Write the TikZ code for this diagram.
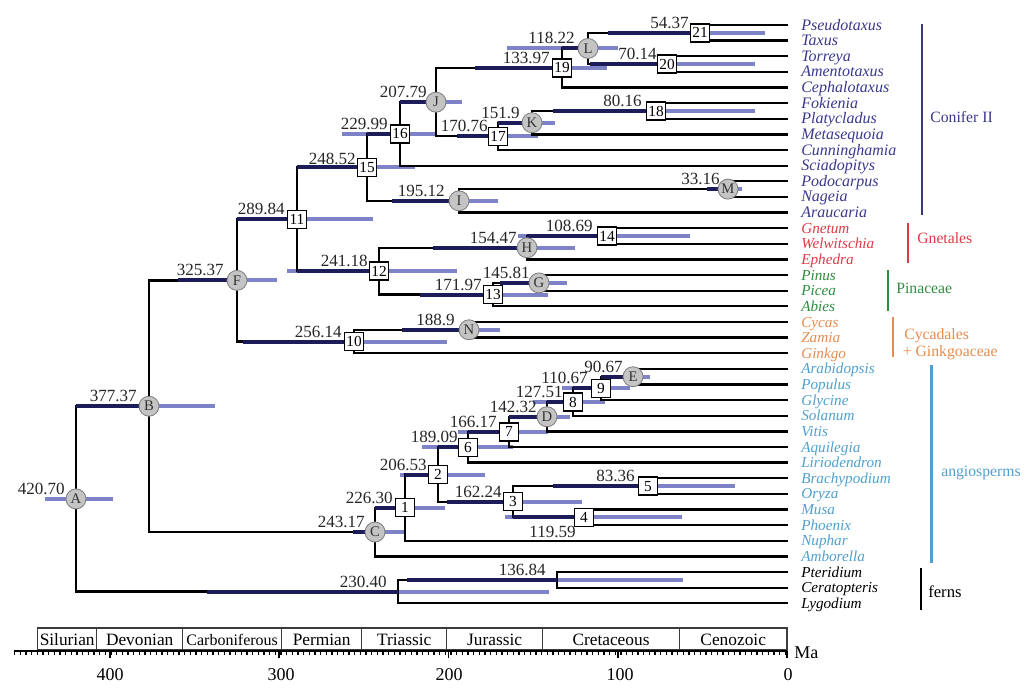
\documentclass[tikz,border=0pt]{standalone}
\usepackage{fontspec}
\setmainfont{Liberation Serif}
\usetikzlibrary{calc}
\pgfdeclarelayer{bars}
\pgfsetlayers{bars,main}
\definecolor{cilight}{RGB}{126,130,198}
\definecolor{cidark}{RGB}{28,28,88}
\definecolor{mkgray}{RGB}{196,196,196}
\definecolor{mkedge}{RGB}{125,125,125}
\definecolor{conc}{RGB}{58,56,140}
\definecolor{gnec}{RGB}{222,58,72}
\definecolor{pinc}{RGB}{46,140,64}
\definecolor{cycc}{RGB}{230,140,78}
\definecolor{angc}{RGB}{80,160,205}
\definecolor{perline}{RGB}{60,60,60}
\newcommand{\cibar}[5]{%
  \begin{pgfonlayer}{bars}\draw[cil] (#2,#1) -- (#5,#1);\end{pgfonlayer}%
  \draw[cid] (#3,#1) -- (#4,#1);}
\begin{document}
\begin{tikzpicture}[x=0.75pt,y=-0.75pt,
  br/.style={line width=1.7pt},
  cil/.style={line width=3pt,draw=cilight},
  cid/.style={line width=3pt,draw=cidark},
  cmark/.style={circle,fill=mkgray,draw=mkedge,line width=0.6pt,minimum size=15pt,inner sep=0pt,font=\fontsize{11}{11}\selectfont,text=black!80},
  smark/.style={rectangle,fill=white,draw=black,line width=1.1pt,minimum width=14.5pt,minimum height=13.5pt,inner sep=0pt,font=\fontsize{11.5}{11.5}\selectfont},
  num/.style={anchor=base east,inner sep=0pt,font=\fontsize{12.8}{13}\selectfont,text=black!85},
  tax/.style={anchor=base west,inner sep=0pt,font=\fontsize{11.4}{12}\selectfont\itshape},
  contax/.style={tax,font=\fontsize{12}{12}\selectfont\itshape,text=conc},
  clade/.style={anchor=west,inner sep=0pt,font=\fontsize{11.8}{13}\selectfont},
  cbar/.style={line width=1.6pt},
  per/.style={inner sep=0pt,font=\fontsize{13}{14}\selectfont},
  axn/.style={inner sep=0pt,font=\fontsize{13.5}{14}\selectfont},
]
\useasboundingbox (0,0) rectangle (1024,696);

% tips
\coordinate (t0) at (788,25.0);
\coordinate (t1) at (788,40.6);
\coordinate (t2) at (788,56.3);
\coordinate (t3) at (788,71.9);
\coordinate (t4) at (788,87.5);
\coordinate (t5) at (788,103.2);
\coordinate (t6) at (788,118.8);
\coordinate (t7) at (788,134.4);
\coordinate (t8) at (788,150.0);
\coordinate (t9) at (788,165.7);
\coordinate (t10) at (788,181.3);
\coordinate (t11) at (788,196.9);
\coordinate (t12) at (788,212.6);
\coordinate (t13) at (788,228.2);
\coordinate (t14) at (788,243.8);
\coordinate (t15) at (788,259.5);
\coordinate (t16) at (788,275.1);
\coordinate (t17) at (788,290.7);
\coordinate (t18) at (788,306.3);
\coordinate (t19) at (788,322.0);
\coordinate (t20) at (788,337.6);
\coordinate (t21) at (788,353.2);
\coordinate (t22) at (788,368.9);
\coordinate (t23) at (788,384.5);
\coordinate (t24) at (788,400.1);
\coordinate (t25) at (788,415.8);
\coordinate (t26) at (788,431.4);
\coordinate (t27) at (788,447.0);
\coordinate (t28) at (788,462.6);
\coordinate (t29) at (788,478.3);
\coordinate (t30) at (788,493.9);
\coordinate (t31) at (788,509.5);
\coordinate (t32) at (788,525.2);
\coordinate (t33) at (788,540.8);
\coordinate (t34) at (788,556.4);
\coordinate (t35) at (788,572.0);
\coordinate (t36) at (788,587.7);
\coordinate (t37) at (788,603.3);

% internal nodes
\coordinate (n21) at (700,32.8);
\coordinate (n20) at (667,64.1);
\coordinate (nL) at (588,48.45);
\coordinate (n19) at (562,67.98);
\coordinate (n18) at (656,111.0);
\coordinate (nK) at (532,122.7);
\coordinate (n17) at (498,136.35);
\coordinate (nJ) at (436,102.17);
\coordinate (n16) at (400,133.93);
\coordinate (nM) at (728,189.1);
\coordinate (nI) at (459,200.85);
\coordinate (n15) at (367,167.39);
\coordinate (n14) at (607,236.0);
\coordinate (nH) at (527,247.75);
\coordinate (nG) at (539,282.9);
\coordinate (n13) at (493,294.6);
\coordinate (n12) at (379,271.18);
\coordinate (n11) at (297,219.28);
\coordinate (nN) at (469,329.8);
\coordinate (n10) at (354,341.5);
\coordinate (nF) at (237,280.39);
\coordinate (nE) at (633,376.7);
\coordinate (n9) at (601,388.4);
\coordinate (n8) at (573,402.1);
\coordinate (nD) at (547,416.75);
\coordinate (n7) at (509,431.9);
\coordinate (n6) at (468,447.25);
\coordinate (n5) at (648,486.1);
\coordinate (n4) at (584,517.35);
\coordinate (n3) at (513,501.7);
\coordinate (n2) at (438,474.5);
\coordinate (n1) at (405,507.65);
\coordinate (nC) at (375,532.0);
\coordinate (nB) at (149,406.2);
\coordinate (nf2) at (557,579.85);
\coordinate (nf1) at (398,591.6);
\coordinate (nA) at (76,498.9);

% branches
\draw[br] (t0) -| (n21) |- (t1);
\draw[br] (t2) -| (n20) |- (t3);
\draw[br] (n21) -| (nL) |- (n20);
\draw[br] (nL) -| (n19) |- (t4);
\draw[br] (t5) -| (n18) |- (t6);
\draw[br] (n18) -| (nK) |- (t7);
\draw[br] (nK) -| (n17) |- (t8);
\draw[br] (n19) -| (nJ) |- (n17);
\draw[br] (nJ) -| (n16) |- (t9);
\draw[br] (t10) -| (nM) |- (t11);
\draw[br] (nM) -| (nI) |- (t12);
\draw[br] (n16) -| (n15) |- (nI);
\draw[br] (t13) -| (n14) |- (t14);
\draw[br] (n14) -| (nH) |- (t15);
\draw[br] (t16) -| (nG) |- (t17);
\draw[br] (nG) -| (n13) |- (t18);
\draw[br] (nH) -| (n12) |- (n13);
\draw[br] (n15) -| (n11) |- (n12);
\draw[br] (t19) -| (nN) |- (t20);
\draw[br] (nN) -| (n10) |- (t21);
\draw[br] (n11) -| (nF) |- (n10);
\draw[br] (t22) -| (nE) |- (t23);
\draw[br] (nE) -| (n9) |- (t24);
\draw[br] (n9) -| (n8) |- (t25);
\draw[br] (n8) -| (nD) |- (t26);
\draw[br] (nD) -| (n7) |- (t27);
\draw[br] (n7) -| (n6) |- (t28);
\draw[br] (t29) -| (n5) |- (t30);
\draw[br] (t31) -| (n4) |- (t32);
\draw[br] (n5) -| (n3) |- (n4);
\draw[br] (n6) -| (n2) |- (n3);
\draw[br] (n2) -| (n1) |- (t33);
\draw[br] (n1) -| (nC) |- (t34);
\draw[br] (nF) -| (nB) |- (nC);
\draw[br] (t35) -| (nf2) |- (t36);
\draw[br] (nf2) -| (nf1) |- (t37);
\draw[br] (nB) -| (nA) |- (nf1);

% confidence bars
\cibar{32.8}{608}{608}{700}{765}
\cibar{64.1}{590}{590}{667}{755}
\cibar{48.45}{507}{562}{588}{618}
\cibar{67.98}{475}{475}{562}{607}
\cibar{111.0}{553}{553}{656}{755}
\cibar{122.7}{497}{498}{532}{555}
\cibar{136.35}{457}{457}{498}{538}
\cibar{102.17}{400}{400}{436}{462}
\cibar{133.93}{342}{367}{400}{435}
\cibar{189.1}{707}{707}{728}{742}
\cibar{200.85}{392}{392}{459}{498}
\cibar{167.39}{297}{297}{367}{415}
\cibar{236.0}{518}{527}{607}{690}
\cibar{247.75}{433}{433}{527}{575}
\cibar{282.9}{500}{500}{539}{567}
\cibar{294.6}{420}{420}{493}{548}
\cibar{271.18}{287}{297}{379}{457}
\cibar{219.28}{237}{237}{297}{373}
\cibar{329.8}{402}{402}{469}{500}
\cibar{341.5}{243}{243}{354}{447}
\cibar{280.39}{178}{178}{237}{277}
\cibar{376.7}{601}{601}{633}{650}
\cibar{388.4}{562}{573}{601}{630}
\cibar{402.1}{533}{547}{573}{605}
\cibar{416.75}{509}{509}{547}{570}
\cibar{431.9}{458}{468}{509}{548}
\cibar{447.25}{422}{438}{468}{513}
\cibar{486.1}{553}{553}{648}{735}
\cibar{517.35}{505}{513}{584}{682}
\cibar{501.7}{447}{447}{513}{582}
\cibar{474.5}{400}{405}{438}{485}
\cibar{507.65}{375}{375}{405}{445}
\cibar{532.0}{353}{353}{375}{405}
\cibar{406.2}{76}{76}{149}{215}
\cibar{579.85}{407}{407}{557}{683}
\cibar{591.6}{207}{207}{398}{549}
\begin{pgfonlayer}{bars}\draw[cil] (45,498.9) -- (113,498.9);\end{pgfonlayer}

% markers
\node[smark] (m21) at (n21) {21};
\node[smark] (m20) at (n20) {20};
\node[cmark] (mL) at (nL) {L};
\node[smark] (m19) at (n19) {19};
\node[smark] (m18) at (n18) {18};
\node[cmark] (mK) at (nK) {K};
\node[smark] (m17) at (n17) {17};
\node[cmark] (mJ) at (nJ) {J};
\node[smark] (m16) at (n16) {16};
\node[cmark] (mM) at (nM) {M};
\node[cmark] (mI) at (nI) {I};
\node[smark] (m15) at (n15) {15};
\node[smark] (m14) at (n14) {14};
\node[cmark] (mH) at (nH) {H};
\node[cmark] (mG) at (nG) {G};
\node[smark] (m13) at (n13) {13};
\node[smark] (m12) at (n12) {12};
\node[smark] (m11) at (n11) {11};
\node[cmark] (mN) at (nN) {N};
\node[smark] (m10) at (n10) {10};
\node[cmark] (mF) at (nF) {F};
\node[cmark] (mE) at (nE) {E};
\node[smark] (m9) at (n9) {9};
\node[smark] (m8) at (n8) {8};
\node[cmark] (mD) at (nD) {D};
\node[smark] (m7) at (n7) {7};
\node[smark] (m6) at (n6) {6};
\node[smark] (m5) at (n5) {5};
\node[smark] (m4) at (n4) {4};
\node[smark] (m3) at (n3) {3};
\node[smark] (m2) at (n2) {2};
\node[smark] (m1) at (n1) {1};
\node[cmark] (mC) at (nC) {C};
\node[cmark] (mB) at (nB) {B};
\node[cmark] (mA) at (nA) {A};

% age labels
\node[num] (l21) at ($(n21)+(-11,-4.5)$) {54.37};
\node[num] (l20) at ($(n20)+(-10,-4.5)$) {70.14};
\node[num] (lL) at ($(nL)+(-13,-4.5)$) {118.22};
\node[num] (l19) at ($(n19)+(-12,-4.5)$) {133.97};
\node[num] (l18) at ($(n18)+(-14,-4.5)$) {80.16};
\node[num] (lK) at ($(nK)+(-12,-4.5)$) {151.9};
\node[num] (l17) at ($(n17)+(-10,-4.5)$) {170.76};
\node[num] (lJ) at ($(nJ)+(-9,-4.5)$) {207.79};
\node[num] (l16) at ($(n16)+(-12,-4.5)$) {229.99};
\node[num] (lM) at ($(nM)+(-8,-4.5)$) {33.16};
\node[num] (lI) at ($(nI)+(-14,-4.5)$) {195.12};
\node[num] (l15) at ($(n15)+(-11,-3)$) {248.52};
\node[num] (l14) at ($(n14)+(-14,-4.5)$) {108.69};
\node[num] (lH) at ($(nH)+(-10,-4.5)$) {154.47};
\node[num] (lG) at ($(nG)+(-9,-4.5)$) {145.81};
\node[num] (l13) at ($(n13)+(-11,-4.5)$) {171.97};
\node[num] (l12) at ($(n12)+(-11,-4.5)$) {241.18};
\node[num] (l11) at ($(n11)+(-12,-4.5)$) {289.84};
\node[num] (lN) at ($(nN)+(-14,-4.5)$) {188.9};
\node[num] (l10) at ($(n10)+(-12,-4.5)$) {256.14};
\node[num] (lF) at ($(nF)+(-13,-4.5)$) {325.37};
\node[num] (lE) at ($(nE)+(-10,-4.5)$) {90.67};
\node[num] (l9) at ($(n9)+(-13,-4.5)$) {110.67};
\node[num] (l8) at ($(n8)+(-10,-4.5)$) {127.51};
\node[num] (lD) at ($(nD)+(-10,-4.5)$) {142.32};
\node[num] (l7) at ($(n7)+(-12,-4.5)$) {166.17};
\node[num] (l6) at ($(n6)+(-10,-4.5)$) {189.09};
\node[num] (l5) at ($(n5)+(-13,-4.5)$) {83.36};
\node[num] (l4) at ($(n4)+(-8,20)$) {119.59};
\node[num] (l3) at ($(n3)+(-11,-4.5)$) {162.24};
\node[num] (l2) at ($(n2)+(-11,-4.5)$) {206.53};
\node[num] (l1) at ($(n1)+(-12,-4.5)$) {226.30};
\node[num] (lC) at ($(nC)+(-10,-4.5)$) {243.17};
\node[num] (lB) at ($(nB)+(-12,-4.5)$) {377.37};
\node[num] (lf2) at ($(nf2)+(-11,-4.5)$) {136.84};
\node[num] (lf1) at ($(nf1)+(-11,-4.5)$) {230.40};
\node[num] (lA) at ($(nA)+(-11,-4.5)$) {420.70};

% taxa
\node[contax] (x0) at ($(t0)+(13,5)$) {Pseudotaxus};
\node[contax] (x1) at ($(t1)+(13,5)$) {Taxus};
\node[contax] (x2) at ($(t2)+(13,5)$) {Torreya};
\node[contax] (x3) at ($(t3)+(13,5)$) {Amentotaxus};
\node[contax] (x4) at ($(t4)+(13,5)$) {Cephalotaxus};
\node[contax] (x5) at ($(t5)+(13,5)$) {Fokienia};
\node[contax] (x6) at ($(t6)+(13,5)$) {Platycladus};
\node[contax] (x7) at ($(t7)+(13,5)$) {Metasequoia};
\node[contax] (x8) at ($(t8)+(13,5)$) {Cunninghamia};
\node[contax] (x9) at ($(t9)+(13,5)$) {Sciadopitys};
\node[contax] (x10) at ($(t10)+(13,5)$) {Podocarpus};
\node[contax] (x11) at ($(t11)+(13,5)$) {Nageia};
\node[contax] (x12) at ($(t12)+(13,5)$) {Araucaria};
\node[tax,text=gnec] (x13) at ($(t13)+(13,5)$) {Gnetum};
\node[tax,text=gnec] (x14) at ($(t14)+(13,5)$) {Welwitschia};
\node[tax,text=gnec] (x15) at ($(t15)+(13,5)$) {Ephedra};
\node[tax,text=pinc] (x16) at ($(t16)+(13,5)$) {Pinus};
\node[tax,text=pinc] (x17) at ($(t17)+(13,5)$) {Picea};
\node[tax,text=pinc] (x18) at ($(t18)+(13,5)$) {Abies};
\node[tax,text=cycc] (x19) at ($(t19)+(13,5)$) {Cycas};
\node[tax,text=cycc] (x20) at ($(t20)+(13,5)$) {Zamia};
\node[tax,text=cycc] (x21) at ($(t21)+(13,5)$) {Ginkgo};
\node[tax,text=angc] (x22) at ($(t22)+(13,5)$) {Arabidopsis};
\node[tax,text=angc] (x23) at ($(t23)+(13,5)$) {Populus};
\node[tax,text=angc] (x24) at ($(t24)+(13,5)$) {Glycine};
\node[tax,text=angc] (x25) at ($(t25)+(13,5)$) {Solanum};
\node[tax,text=angc] (x26) at ($(t26)+(13,5)$) {Vitis};
\node[tax,text=angc] (x27) at ($(t27)+(13,5)$) {Aquilegia};
\node[tax,text=angc] (x28) at ($(t28)+(13,5)$) {Liriodendron};
\node[tax,text=angc] (x29) at ($(t29)+(13,5)$) {Brachypodium};
\node[tax,text=angc] (x30) at ($(t30)+(13,5)$) {Oryza};
\node[tax,text=angc] (x31) at ($(t31)+(13,5)$) {Musa};
\node[tax,text=angc] (x32) at ($(t32)+(13,5)$) {Phoenix};
\node[tax,text=angc] (x33) at ($(t33)+(13,5)$) {Nuphar};
\node[tax,text=angc] (x34) at ($(t34)+(13,5)$) {Amborella};
\node[tax] (x35) at ($(t35)+(13,5)$) {Pteridium};
\node[tax] (x36) at ($(t36)+(13,5)$) {Ceratopteris};
\node[tax] (x37) at ($(t37)+(13,5)$) {Lygodium};

% clade bars and labels
\draw[cbar,draw=conc] (922,24) -- (922,215);
\node[clade,text=conc] (cl1) at (930,117) {Conifer II};
\draw[cbar,draw=gnec] (908,223) -- (908,263);
\node[clade,text=gnec] (cl2) at (917,238) {Gnetales};
\draw[cbar,draw=pinc] (888,270) -- (888,311);
\node[clade,text=pinc] (cl3) at (896,288) {Pinaceae};
\draw[cbar,draw=cycc] (893,317) -- (893,357);
\node[clade,text=cycc] (cl4) at (904,336) {Cycadales};
\node[clade,text=cycc] (cl5) at (902.5,353) {+ Ginkgoaceae};
\draw[cbar,draw=angc] (931.5,365) -- (931.5,563);
\node[clade,text=angc] (cl6) at (941,472.5) {angiosperms};
\draw[cbar,draw=black] (921,568) -- (921,610);
\node[clade,font=\fontsize{12.5}{13}\selectfont] (cl7) at (928,592) {ferns};

% geological time scale
\draw[perline,line width=0.8pt] (37.7,628) rectangle (96.7,650);
\draw[perline,line width=0.8pt] (96.7,628) rectangle (182.7,650);
\draw[perline,line width=0.8pt] (182.7,628) rectangle (281.7,650);
\draw[perline,line width=0.8pt] (281.7,628) rectangle (361.7,650);
\draw[perline,line width=0.8pt] (361.7,628) rectangle (446.7,650);
\draw[perline,line width=0.8pt] (446.7,628) rectangle (542.5,650);
\draw[perline,line width=0.8pt] (542.5,628) rectangle (679.5,650);
\draw[perline,line width=0.8pt] (679.5,628) rectangle (787,650);
\node[per] (p1) at (67.2,640) {Silurian};
\node[per] (p2) at (139.7,640) {Devonian};
\node[per,font=\fontsize{12}{13}\selectfont] (p3) at (232.2,640) {Carboniferous};
\node[per] (p4) at (321.7,640) {Permian};
\node[per] (p5) at (404.2,640) {Triassic};
\node[per] (p6) at (494.6,640) {Jurassic};
\node[per] (p7) at (611,640) {Cretaceous};
\node[per] (p8) at (733.2,640) {Cenozoic};

\draw[line width=1.1pt] (14,651) -- (787,651);
\draw[line width=2pt,dash pattern=on 1pt off 3.25pt] (14,653.3) -- (787,653.3);
\foreach \xx in {110,279,448.5,617.8,787}
  \draw[line width=1.3pt] (\xx,651) -- (\xx,657.5);
\node[axn] (a400) at (110,675) {400};
\node[axn] (a300) at (281,675) {300};
\node[axn] (a200) at (449,675) {200};
\node[axn] (a100) at (620,675) {100};
\node[axn] (a0) at (788,675) {0};
\node[axn,anchor=west] (ama) at (794,653) {Ma};
\end{tikzpicture}
\end{document}
